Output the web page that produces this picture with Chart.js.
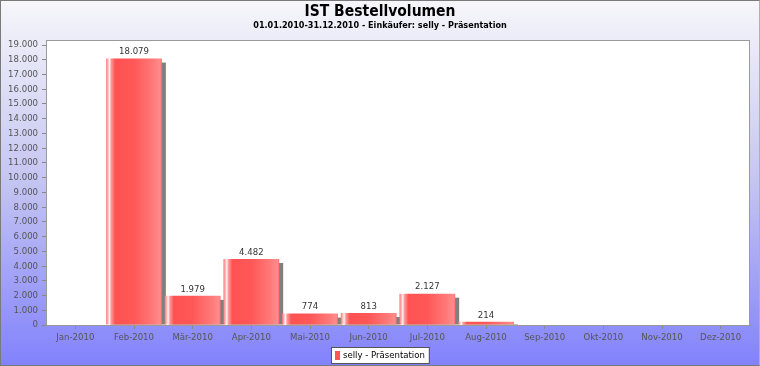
<!DOCTYPE html>
<html>
<head>
<meta charset="utf-8">
<script src="https://cdn.jsdelivr.net/npm/chart.js@4.4.1/dist/chart.umd.min.js"></script>
<style>
  html, body { margin: 0; padding: 0; }
  #wrap {
    position: relative; width: 760px; height: 366px; box-sizing: border-box;
    border: 1px solid #7a7a7a; border-right-color: #b0b0b0;
    background: linear-gradient(to bottom, #f6f6fa 0%, #c4c4f2 50%, #8282fc 100%);
  }
  canvas { display: block; }
</style>
</head>
<body>
<div id="wrap"><canvas id="chart" width="758" height="364"></canvas></div>
<script>
const months = ['Jan-2010', 'Feb-2010', 'Mär-2010', 'Apr-2010', 'Mai-2010', 'Jun-2010',
                'Jul-2010', 'Aug-2010', 'Sep-2010', 'Okt-2010', 'Nov-2010', 'Dez-2010'];
const volumes = [0, 18079, 1979, 4482, 774, 813, 2127, 214, 0, 0, 0, 0];
const seriesName = 'selly - Präsentation';
const yTicks = [0, 1000, 2000, 3000, 4000, 5000, 6000, 7000, 8000, 9000, 10000,
                11000, 12000, 13000, 14000, 15000, 16000, 17000, 18000, 19000];
const titleText = 'IST Bestellvolumen';
const subtitleText = '01.01.2010-31.12.2010 - Einkäufer: selly - Präsentation';

const FONT = '"DejaVu Sans Condensed", "Liberation Sans", sans-serif';
const BAR_PCT = 0.95;

function fmt(n) {
  return String(Math.round(n)).replace(/\B(?=(\d{3})+(?!\d))/g, '.');
}

// cylinder-ish horizontal gradient for every bar
function barFill(ctx) {
  if (ctx.type !== 'data') return '#ff5555';
  const chart = ctx.chart;
  const x = chart.scales.x;
  if (!x) return '#ff5555';
  const cx = x.getPixelForValue(ctx.dataIndex);
  const w = (x.width / months.length) * BAR_PCT;
  if (!isFinite(cx) || !isFinite(w) || w <= 0) return '#ff5555';
  const g = chart.ctx.createLinearGradient(cx - w / 2, 0, cx + w / 2, 0);
  g.addColorStop(0, '#ff7373');
  g.addColorStop(0.03, '#ffb0b0');
  g.addColorStop(0.06, '#fff2f2');
  g.addColorStop(0.09, '#ff9a9a');
  g.addColorStop(0.16, '#ff5252');
  g.addColorStop(0.5, '#ff5757');
  g.addColorStop(0.85, '#ff7a7a');
  g.addColorStop(0.97, '#ff8c8c');
  g.addColorStop(1, '#ff6a6a');
  return g;
}

const decor = {
  id: 'decor',
  beforeDraw(chart) {
    const { ctx, chartArea: a } = chart;
    ctx.save();
    ctx.fillStyle = '#ffffff';
    ctx.fillRect(a.left, a.top, a.right - a.left, a.bottom - a.top);
    ctx.textAlign = 'center';
    ctx.textBaseline = 'middle';
    ctx.fillStyle = '#000';
    ctx.font = 'bold 15.5px ' + FONT;
    ctx.fillText(titleText, chart.width / 2, 11);
    ctx.font = 'bold 9px ' + FONT;
    ctx.fillText(subtitleText, chart.width / 2, 25);
    ctx.restore();
  },
  beforeDatasetsDraw(chart) {
    const { ctx, chartArea: a } = chart;
    const meta = chart.getDatasetMeta(0);
    ctx.save();
    ctx.beginPath();
    ctx.rect(a.left, a.top, a.right - a.left, a.bottom - a.top);
    ctx.clip();
    ctx.fillStyle = '#808080';
    meta.data.forEach((bar, i) => {
      if (!volumes[i]) return;
      const left = bar.x - bar.width / 2;
      ctx.fillRect(left + 4, bar.y + 4, bar.width, bar.base - bar.y - 4);
    });
    ctx.restore();
  },
  afterDatasetsDraw(chart) {
    const { ctx, chartArea: a } = chart;
    const meta = chart.getDatasetMeta(0);
    ctx.save();
    ctx.font = '9.5px ' + FONT;
    ctx.fillStyle = '#333';
    ctx.textAlign = 'center';
    ctx.textBaseline = 'bottom';
    meta.data.forEach((bar, i) => {
      if (!volumes[i]) return;
      ctx.fillText(fmt(volumes[i]), bar.x, bar.y - 2);
    });
    ctx.strokeStyle = '#9a9a9a';
    ctx.lineWidth = 1;
    ctx.strokeRect(a.left + 0.5, a.top + 0.5, a.right - a.left - 1, a.bottom - a.top);
    // legend box
    ctx.font = '9.5px ' + FONT;
    const tw = ctx.measureText(seriesName).width;
    const bw = tw + 16, bh = 16;
    const bx = Math.round(chart.width / 2 - bw / 2), by = 346;
    ctx.fillStyle = '#fff';
    ctx.fillRect(bx, by, bw, bh);
    ctx.strokeStyle = '#555';
    ctx.strokeRect(bx + 0.5, by + 0.5, bw, bh);
    ctx.fillStyle = '#ff5555';
    ctx.fillRect(bx + 4, by + 4, 5, 9);
    ctx.fillStyle = '#000';
    ctx.textAlign = 'left';
    ctx.textBaseline = 'middle';
    ctx.fillText(seriesName, bx + 12, by + bh / 2 + 1);
    ctx.restore();
  }
};

new Chart(document.getElementById('chart'), {
  type: 'bar',
  data: {
    labels: months,
    datasets: [{
      label: seriesName,
      data: volumes,
      backgroundColor: barFill,
      borderWidth: 0,
      barPercentage: BAR_PCT,
      categoryPercentage: 1
    }]
  },
  options: {
    responsive: false,
    animation: false,
    layout: { padding: { top: 39, right: 9, left: 0, bottom: 0 } },
    plugins: { legend: { display: false }, tooltip: { enabled: false } },
    scales: {
      x: {
        grid: { display: true, drawOnChartArea: false, tickLength: 4, color: '#888', offset: false },
        border: { color: '#888' },
        ticks: { color: '#555', font: { family: FONT, size: 9.5 }, padding: 3, maxRotation: 0, autoSkip: false },
        afterFit(scale) { scale.height = 40; }
      },
      y: {
        min: 0,
        max: 19340,
        afterBuildTicks(scale) { scale.ticks = yTicks.map(v => ({ value: v })); },
        grid: { display: true, drawOnChartArea: false, tickLength: 4, color: '#888' },
        border: { color: '#888' },
        ticks: { color: '#555', font: { family: FONT, size: 9.5 }, padding: 4, callback: v => fmt(v) },
        afterFit(scale) { scale.width = 45; }
      }
    }
  },
  plugins: [decor]
});
</script>
</body>
</html>
